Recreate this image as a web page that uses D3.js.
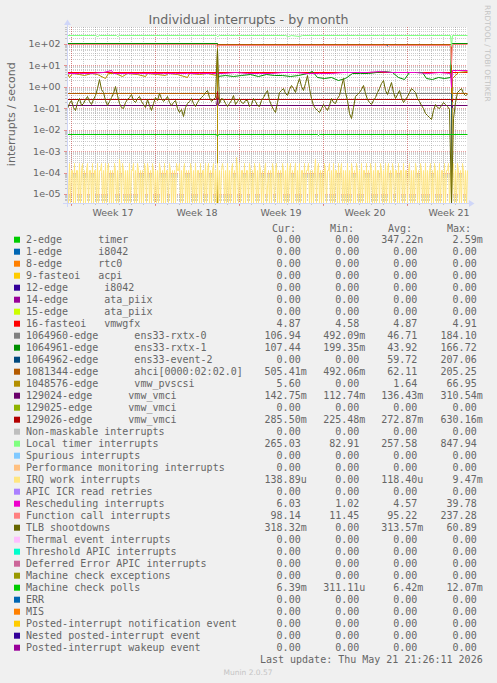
<!DOCTYPE html>
<html><head><meta charset="utf-8">
<script src="https://cdn.jsdelivr.net/npm/d3@7"></script>
<style>
html,body{margin:0;padding:0;background:#F0F0F0;}
svg{display:block;}
text{white-space:pre;}
</style></head><body>
<svg id="c" width="497" height="683"></svg>
<script>
// ---------------- data ----------------
const chartTitle = "Individual interrupts - by month";
const yAxisTitle = "interrupts / second";
const lastUpdate = "Last update: Thu May 21 21:26:11 2026";
const footerText = "Munin 2.0.57";
const watermark = "RRDTOOL / TOBI OETIKER";
const chartStart = "2026-04-19T16:00:00Z";
const chartEnd = "2026-05-23T00:00:00Z";
const yTickValues = [1e2, 1e1, 1, 1e-1, 1e-2, 1e-3, 1e-4, 1e-5];
const yTickLabels = ["1e+02", "1e+01", "1e+00", "1e-01", "1e-02", "1e-03", "1e-04", "1e-05"];
const legendHeaders = ["Cur:", "Min:", "Avg:", "Max:"];

const seriesNames = [
  "2-edge      timer", "1-edge      i8042", "8-edge      rtc0", "9-fasteoi   acpi",
  "12-edge      i8042", "14-edge      ata_piix", "15-edge      ata_piix", "16-fasteoi   vmwgfx",
  "1064960-edge      ens33-rxtx-0", "1064961-edge      ens33-rxtx-1", "1064962-edge      ens33-event-2",
  "1081344-edge      ahci[0000:02:02.0]", "1048576-edge      vmw_pvscsi",
  "129024-edge      vmw_vmci", "129025-edge      vmw_vmci", "129026-edge      vmw_vmci",
  "Non-maskable interrupts", "Local timer interrupts", "Spurious interrupts",
  "Performance monitoring interrupts", "IRQ work interrupts", "APIC ICR read retries",
  "Rescheduling interrupts", "Function call interrupts", "TLB shootdowns",
  "Thermal event interrupts", "Threshold APIC interrupts", "Deferred Error APIC interrupts",
  "Machine check exceptions", "Machine check polls", "ERR", "MIS",
  "Posted-interrupt notification event", "Nested posted-interrupt event", "Posted-interrupt wakeup event"
];
const seriesColors = [
  "#00CC00", "#0066B3", "#FF8000", "#FFCC00", "#330099", "#990099", "#CCFF00", "#FF0000",
  "#808080", "#008F00", "#00487D", "#B35A00", "#B38F00", "#6B006B", "#8FB300", "#B30000",
  "#BEBEBE", "#80FF80", "#80C9FF", "#FFC080", "#FFE680", "#AA80FF", "#EE00CC", "#FF8080",
  "#666600", "#FFBFFF", "#00FFCC", "#CC6699", "#999900", "#00CC00", "#0066B3", "#FF8000",
  "#FFCC00", "#330099", "#990099"
];
const curValues = ["0.00","0.00","0.00","0.00","0.00","0.00","0.00","4.87","106.94","107.44","0.00","505.41m","5.60","142.75m","0.00","285.50m","0.00","265.03","0.00","0.00","138.89u","0.00","6.03","98.14","318.32m","0.00","0.00","0.00","0.00","6.39m","0.00","0.00","0.00","0.00","0.00"];
const minValues = ["0.00","0.00","0.00","0.00","0.00","0.00","0.00","4.58","492.09m","199.35m","0.00","492.06m","0.00","112.74m","0.00","225.48m","0.00","82.91","0.00","0.00","0.00","0.00","1.02","11.45","0.00","0.00","0.00","0.00","0.00","311.11u","0.00","0.00","0.00","0.00","0.00"];
const avgValues = ["347.22n","0.00","0.00","0.00","0.00","0.00","0.00","4.87","46.71","43.92","59.72","62.11","1.64","136.43m","0.00","272.87m","0.00","257.58","0.00","0.00","118.40u","0.00","4.57","95.22","313.57m","0.00","0.00","0.00","0.00","6.42m","0.00","0.00","0.00","0.00","0.00"];
const maxValues = ["2.59m","0.00","0.00","0.00","0.00","0.00","0.00","4.91","184.10","166.72","207.06","205.25","66.95","310.54m","0.00","630.16m","0.00","847.94","0.00","0.00","9.47m","0.00","39.78","237.28","60.89","0.00","0.00","0.00","0.00","12.07m","0.00","0.00","0.00","0.00","0.00"];

// plotted series: [days after chart start, rate per second]
const zeroLine = [[0, 0], [33.33, 0]];
const localTimer = [[0,257],[2.3,257],[2.5,232],[2.7,257],[4.1,257],[4.2,248],[4.3,257],[12.4,257],[12.5,240],[12.7,262],[13.5,250],[14,258],[18.2,257],[18.4,242],[18.7,255],[19.3,248],[19.6,257],[24,262],[26,264],[28,259],[31.9,258],[32.0,83],[32.1,262],[33.33,265]];
const funcCall = [[0,100],[12.4,100],[12.5,72],[12.6,94],[26.6,94],[26.7,80],[26.8,94],[31.95,94],[32.0,11.45],[32.05,98],[33.33,98]];
const rxtx0 = [[0,107],[12.5,107],[12.5,0.49],[32.0,0.49],[32.0,107],[33.33,107]];
const rxtx1 = [[0,107],[12.5,107],[12.5,3.3],[13.2,3.6],[13.8,3.2],[14.5,3.5],[15.25,3.8],[15.9,3.3],[16.6,3.9],[17.25,3.4],[17.9,3.7],[18.6,3.2],[19.25,3.6],[20.0,4.2],[20.4,5.6],[20.8,3.0],[21.4,2.5],[22.0,2.8],[22.6,2.2],[23.2,2.7],[23.75,4.5],[24.4,4.3],[25.1,4.6],[25.75,5.0],[26.4,5.3],[27.1,4.9],[27.6,2.8],[28.1,2.4],[28.5,5.0],[29.1,5.2],[29.6,4.8],[29.9,2.6],[30.4,2.3],[30.9,3.0],[31.4,2.5],[31.9,2.8],[32.0,107],[33.33,107.4]];
const event2 = [[0,0],[12.5,0],[12.5,100],[20.8,100],[20.85,86],[22.5,86],[22.55,100],[23.2,100],[23.25,86],[23.5,86],[23.55,100],[25.0,100],[25.05,86],[25.4,86],[25.45,100],[26.5,100],[26.55,86],[26.7,86],[26.75,100],[27.9,100],[27.95,86],[28.1,86],[28.15,100],[30.2,100],[30.25,86],[30.4,86],[30.45,100],[32.0,100],[32.0,0],[33.33,0]];
const ahci = [[0,0.5],[12.5,0.5],[12.5,105],[32.0,105],[32.0,0.5],[33.33,0.505]];
const pvscsi = [[0,4.2],[0.2,3.0],[0.4,4.3],[1.0,4.0],[1.4,3.5],[2.0,4.3],[2.5,3.8],[3.2,2.7],[3.4,4.2],[4.0,4.4],[4.6,3.3],[5.0,4.2],[5.8,4.0],[6.5,3.1],[6.7,4.3],[7.5,4.1],[8.2,3.4],[8.4,4.3],[9.2,4.0],[10.0,2.9],[10.2,4.2],[11.0,3.8],[11.7,4.3],[12.4,3.6],[12.5,66.9],[12.5,0],[32.0,0],[32.05,2.6],[32.3,3.5],[32.6,5.2],[33.33,5.6]];
const vmwgfx = [[0,4.87],[12.45,4.87],[12.5,4.58],[12.55,4.88],[33.33,4.87]];
const vmci24 = [[0,0.137],[12.45,0.137],[12.5,0.31],[12.55,0.135],[32.0,0.136],[32.05,0.113],[32.1,0.142],[33.33,0.143]];
const vmci26 = [[0,0.28],[12.45,0.28],[12.5,0.63],[12.55,0.27],[32.0,0.27],[32.05,0.225],[32.1,0.285],[33.33,0.2855]];
const resched = [[0,4.4],[1,4.6],[2,4.3],[3,4.7],[3.7,5.8],[3.8,4.5],[5,4.4],[6,4.6],[7,4.5],[8,4.3],[9,4.6],[10,4.4],[11,4.5],[12,4.6],[13,4.6],[14,4.7],[15,4.5],[16,4.6],[17,4.5],[18,4.7],[19,5.0],[20,4.6],[21,4.5],[22,4.6],[23,4.8],[24,5.2],[25,5.0],[26,5.3],[27,5.1],[28,4.8],[29,5.0],[30,4.6],[31,4.7],[31.95,4.6],[32.0,1.02],[32.05,5.8],[32.5,6.2],[33.33,6.03]];
const mcPolls = [[0,6.4e-3],[12.45,6.4e-3],[12.5,5.0e-3],[12.55,6.5e-3],[20.8,6.4e-3],[20.9,5.6e-3],[21.0,6.4e-3],[33.33,6.39e-3]];
// TLB shootdowns, 201 samples evenly spaced over the period
const tlbShootdowns = [
  0.10,0.18,0.24,0.12,0.08,0.20,0.30,0.14,0.175,0.28,
  0.36,0.22,0.16,0.26,0.41,0.9,2.3,0.8,0.57,0.25,
  0.14,0.22,0.33,0.5,1.1,0.4,0.175,0.12,0.10,0.19,
  0.27,0.35,0.46,0.25,0.20,0.3,0.36,0.21,0.16,0.12,
  0.27,0.15,0.08,0.18,0.33,0.24,0.51,0.3,0.22,0.28,
  0.36,0.19,0.14,0.2,0.24,0.1,0.065,0.09,0.043,0.11,
  0.175,0.22,0.30,0.18,0.13,0.2,0.27,0.33,0.41,0.55,
  0.71,0.35,0.22,0.28,0.33,60.89,
  0.175,0.3,0.27,0.18,0.13,0.17,0.24,0.4,0.16,0.22,
  0.30,0.2,0.175,0.25,0.24,0.13,0.16,0.3,0.22,0.15,
  0.13,0.24,0.33,0.5,0.71,0.25,0.14,0.09,0.065,0.2,
  0.57,0.7,0.88,0.5,0.41,0.8,1.2,0.9,0.57,1.4,
  2.6,1.1,0.71,1.5,3.6,0.9,0.30,0.15,0.10,0.08,
  0.065,0.1,0.16,0.12,0.082,0.15,0.30,0.2,0.175,0.3,
  0.41,1.1,2.6,0.6,0.24,0.06,0.035,0.12,0.36,0.45,
  0.57,0.8,1.2,0.5,0.27,0.2,0.16,0.25,0.33,0.6,
  0.88,1.5,2.1,0.7,0.46,0.9,1.7,0.6,0.30,0.45,
  0.71,0.35,0.20,0.28,0.36,0.6,0.88,0.7,0.57,0.3,
  0.22,0.14,0.10,0.06,0.047,0.04,0.031,0.08,0.16,0.12,
  0.10,0.15,0.20,0.16,0.13,0.09,
  0,0.035,0.2,0.57,0.7,0.88,0.5,0.41,0.45
];
// IRQ work interrupts per 2-hour sample (400 samples)
const irqWorkPer2h = [
  1,0,2,0,1,1,0,2,0,1,1,0,2,0,1,2,0,1,0,1,
  2,0,1,1,0,2,0,1,1,0,2,0,1,1,2,0,1,0,2,0,
  1,2,0,1,0,1,0,2,1,0,1,0,3,1,0,2,1,0,1,0,
  1,0,2,0,1,1,2,0,1,0,2,1,0,1,0,1,0,2,1,0,
  2,1,0,1,0,2,1,0,1,0,1,0,2,1,0,1,0,2,0,1,
  1,0,2,1,0,1,0,1,0,2,1,1,2,0,1,0,1,2,0,1,
  0,1,0,2,1,0,1,0,2,0,1,1,0,2,0,1,1,0,2,0,
  1,2,0,1,0,1,2,0,1,0,2,0,1,0,1,2,1,0,1,0,
  2,0,1,0,1,2,0,1,0,4,1,0,2,0,1,1,0,2,0,1,
  1,0,2,1,0,1,0,2,1,0,1,0,2,1,0,1,0,1,2,0,
  1,0,1,0,2,1,0,1,2,0,1,0,1,0,2,1,0,1,0,2,
  0,1,2,0,1,0,1,2,0,1,0,2,0,1,1,0,2,0,1,1,
  2,0,1,0,1,0,1,3,0,1,2,0,1,0,1,0,2,1,0,1,
  1,2,0,1,0,2,0,1,1,0,2,0,1,2,0,1,0,1,0,2,
  0,1,0,2,1,0,1,0,2,1,0,1,0,2,0,1,1,0,2,0,
  1,0,2,1,0,1,0,2,0,1,1,0,2,1,0,1,0,2,0,1,
  2,0,1,0,2,1,0,1,1,0,2,0,1,1,0,2,0,1,1,0,
  1,2,0,1,0,1,0,2,1,0,1,0,2,1,0,1,0,2,0,1,
  0,1,2,0,1,0,2,1,0,1,0,2,0,1,1,0,2,0,1,1,
  2,0,1,0,1,2,0,1,0,2,1,0,1,0,2,1,0,1,0,1
];

// ---------------- drawing ----------------
const svg = d3.select("#c");
const X0 = 67, X1 = 467, YT = 27, YB = 203;
const DAY = 864e5;
const t0 = new Date(chartStart), t1 = new Date(chartEnd);
const spanDays = (t1 - t0) / DAY;
const toDate = d => new Date(t0.getTime() + d * DAY);
const x = d3.scaleUtc().domain([t0, t1]).range([X0, X1]);
const yMin = Math.pow(10, -5.42), yMax = Math.pow(10, 2.793);
const y = d3.scaleLog().domain([yMin, yMax]).range([YB, YT]).clamp(true);
const px = v => Math.round(v) + 0.5;

const FONT = "DejaVu Sans, sans-serif";
const MONO = "DejaVu Sans Mono, monospace";
const FC = "#666666";

svg.append("rect").attr("width", 497).attr("height", 683).attr("fill", "#F0F0F0");
svg.append("rect").attr("x", X0).attr("y", YT).attr("width", X1 - X0).attr("height", YB - YT).attr("fill", "#FFFFFF");

const grid = svg.append("g");
const minorStyle = s => s.attr("stroke", "#8F8F8F").attr("stroke-opacity", 0.45).attr("stroke-width", 1).attr("stroke-dasharray", "1,1");
const majorStyle = s => s.attr("stroke", "#DE4F4F").attr("stroke-opacity", 0.55).attr("stroke-width", 1).attr("stroke-dasharray", "1,1");

// minor horizontal (log) grid
const minorH = [];
for (let e = -6; e <= 2; e++) for (let k = 2; k <= 9; k++) { const v = k * Math.pow(10, e); if (v > yMin && v < yMax) minorH.push(v); }
grid.selectAll(".mh").data(minorH).join("line").attr("x1", X0).attr("x2", X1)
  .attr("y1", d => px(y(d))).attr("y2", d => px(y(d))).call(minorStyle);
grid.selectAll(".mht").data(minorH).join("line").attr("x1", X0 - 2).attr("x2", X0).attr("y1", d => px(y(d))).attr("y2", d => px(y(d))).attr("stroke", "#8F8F8F").attr("stroke-opacity", 0.45);
// minor vertical (daily) grid
const days = d3.utcDay.range(t0, t1);
grid.selectAll(".mv").data(days).join("line").attr("y1", YT).attr("y2", YB)
  .attr("x1", d => px(x(d))).attr("x2", d => px(x(d))).call(minorStyle);
grid.selectAll(".mvt").data(days).join("line").attr("y1", YB).attr("y2", YB + 2)
  .attr("x1", d => px(x(d))).attr("x2", d => px(x(d))).attr("stroke", "#8F8F8F").attr("stroke-opacity", 0.45);
// major grid
grid.selectAll(".Mh").data(yTickValues).join("line").attr("x1", X0).attr("x2", X1)
  .attr("y1", d => px(y(d))).attr("y2", d => px(y(d))).call(majorStyle);
grid.selectAll(".Mht").data(yTickValues).join("line").attr("x1", X0 - 3).attr("x2", X0)
  .attr("y1", d => px(y(d))).attr("y2", d => px(y(d))).attr("stroke", "#DE4F4F").attr("stroke-opacity", 0.6);
const weeks = d3.utcMonday.range(t0, t1);
grid.selectAll(".Mv").data(weeks).join("line").attr("y1", YT).attr("y2", YB)
  .attr("x1", d => px(x(d))).attr("x2", d => px(x(d))).call(majorStyle);
grid.selectAll(".Mvt").data(weeks).join("line").attr("y1", YB).attr("y2", YB + 3)
  .attr("x1", d => px(x(d))).attr("x2", d => px(x(d))).attr("stroke", "#DE4F4F").attr("stroke-opacity", 0.6);

// y labels
svg.append("g").selectAll("text").data(yTickValues).join("text")
  .attr("x", 60.5).attr("y", d => y(d) + 3.5).attr("text-anchor", "end")
  .attr("font-family", FONT).attr("font-size", 9.5).attr("fill", FC)
  .text((d, i) => yTickLabels[i]);
// x labels (mid-week)
const weekLabelDates = d3.utcMonday.range(d3.utcDay.offset(t0, -7), t1)
  .map(m => new Date(m.getTime() + 3.5 * DAY)).filter(d => d >= t0 && d <= t1);
const fmtWeek = d3.utcFormat("Week %V");
svg.append("g").selectAll("text").data(weekLabelDates).join("text")
  .attr("x", d => x(d)).attr("y", 216).attr("text-anchor", "middle")
  .attr("font-family", FONT).attr("font-size", 9.5).attr("fill", FC)
  .text(d => fmtWeek(new Date(d.getTime() - 3.5 * DAY)));

// series data by legend index
const tlbPairs = tlbShootdowns.map((v, i) => [i * spanDays / (tlbShootdowns.length - 1), v]);
const irqPairs = irqWorkPer2h.map((c, i) => [i * spanDays / (irqWorkPer2h.length - 1), c / 7200]);
const plotData = [
  zeroLine, zeroLine, zeroLine, zeroLine, zeroLine, zeroLine, zeroLine, vmwgfx,
  rxtx0, rxtx1, event2, ahci, pvscsi, vmci24, zeroLine, vmci26,
  zeroLine, localTimer, zeroLine, zeroLine, irqPairs, zeroLine, resched, funcCall,
  tlbPairs, zeroLine, zeroLine, zeroLine, zeroLine, mcPolls, zeroLine, zeroLine,
  zeroLine, zeroLine, zeroLine
];
const line = d3.line()
  .x(d => px(x(toDate(d[0]))))
  .y(d => px(y(Math.max(d[1], yMin))));
const plot = svg.append("g");
plotData.forEach((data, i) => {
  plot.append("path").attr("d", line(data)).attr("fill", "none")
    .attr("stroke", seriesColors[i]).attr("stroke-width", 1).attr("stroke-linejoin", "round");
});

// axes + arrows
const AX = "#CFD6F8";
svg.append("line").attr("x1", X0 - 4).attr("x2", X1 + 4).attr("y1", YB + 0.5).attr("y2", YB + 0.5).attr("stroke", AX);
svg.append("line").attr("x1", X0 + 0.5).attr("x2", X0 + 0.5).attr("y1", YB + 4).attr("y2", YT - 4).attr("stroke", AX);
svg.append("path").attr("d", `M${X1 + 2},${YB - 3}L${X1 + 2},${YB + 4}L${X1 + 7.5},${YB + 0.5}Z`).attr("fill", AX);
svg.append("path").attr("d", `M${X0 - 3},${YT - 2}L${X0 + 4},${YT - 2}L${X0 + 0.5},${YT - 7.5}Z`).attr("fill", AX);

// titles
svg.append("text").attr("x", 248.5).attr("y", 24).attr("text-anchor", "middle")
  .attr("font-family", FONT).attr("font-size", 12.6).attr("fill", FC).text(chartTitle);
svg.append("text").attr("transform", "translate(15,114.2) rotate(-90)").attr("text-anchor", "middle")
  .attr("font-family", FONT).attr("font-size", 11).attr("fill", FC).text(yAxisTitle);
svg.append("text").attr("transform", "translate(485,5) rotate(90)").attr("text-anchor", "start")
  .attr("font-family", FONT).attr("font-size", 7.5).attr("fill", "#C4C4C4").text(watermark);

// legend
const colEnds = [300.7, 359.3, 417.3, 476.7];
const hdrX = [272, 330, 388, 447];
const leg = svg.append("g").attr("font-family", MONO).attr("font-size", 10).attr("fill", FC);
legendHeaders.forEach((h, i) => leg.append("text").attr("x", hdrX[i]).attr("y", 231.5).text(h));
const rowY = i => 239.7 + 12 * i;
seriesNames.forEach((name, i) => {
  leg.append("rect").attr("x", 14).attr("y", rowY(i) - 3).attr("width", 6).attr("height", 6).attr("fill", seriesColors[i]);
  leg.append("text").attr("x", 26).attr("y", rowY(i) + 3.6).text(name);
  [curValues, minValues, avgValues, maxValues].forEach((arr, c) => {
    const s = arr[i];
    const m = s.match(/^([0-9.]+)([a-zA-Z]?)$/);
    leg.append("text").attr("x", colEnds[c]).attr("y", rowY(i) + 3.6).attr("text-anchor", "end").text(m[1]);
    if (m[2]) leg.append("text").attr("x", colEnds[c]).attr("y", rowY(i) + 3.6).text(m[2]);
  });
});
leg.append("text").attr("x", 482.7).attr("y", 663.3).attr("text-anchor", "end").text(lastUpdate);
svg.append("text").attr("x", 248).attr("y", 674.5).attr("text-anchor", "middle")
  .attr("font-family", FONT).attr("font-size", 7.5).attr("fill", "#C4C4C4").text(footerText);
</script>
</body></html>
